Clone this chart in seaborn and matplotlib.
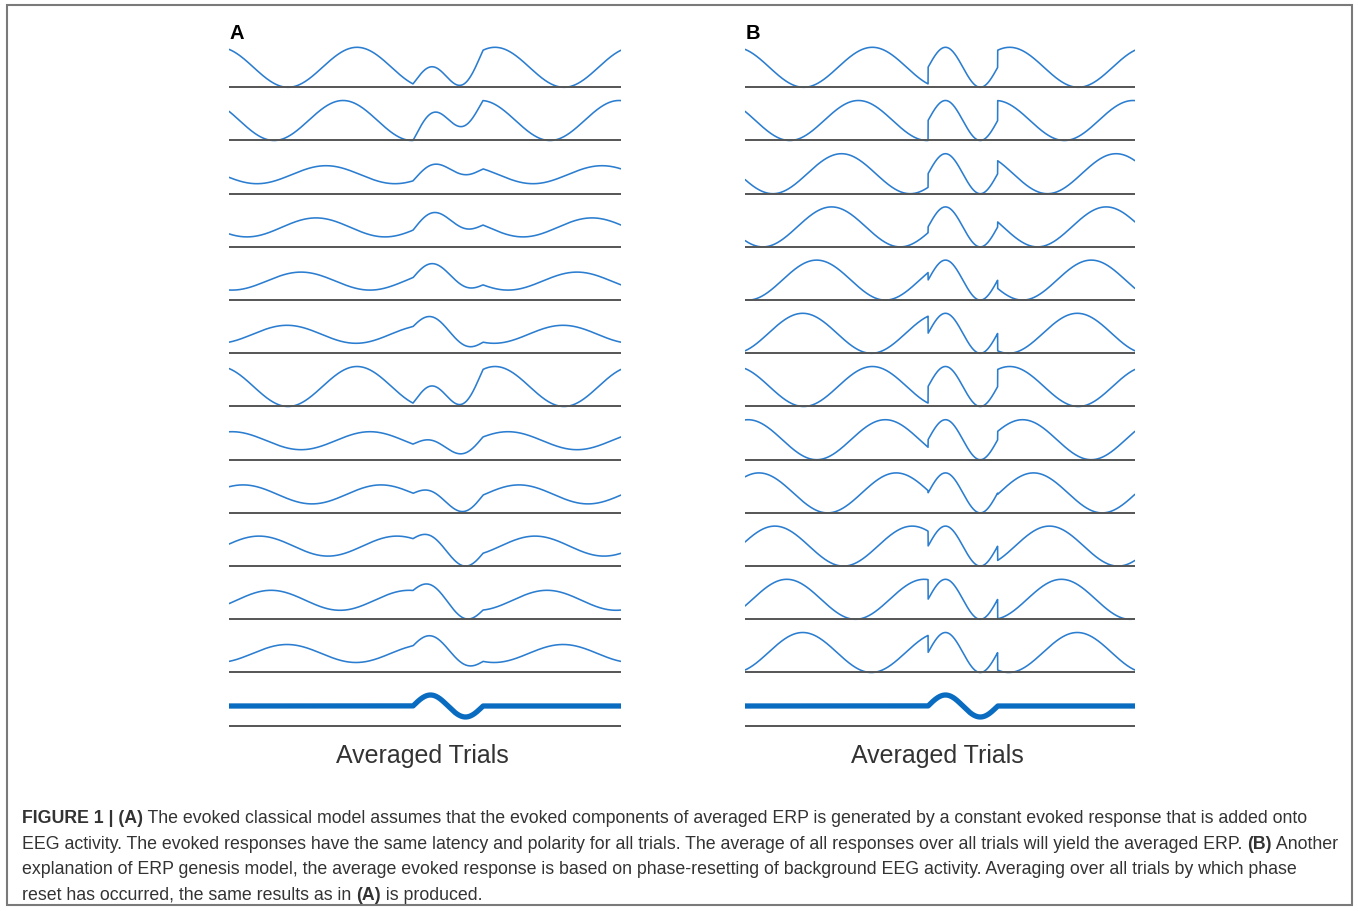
import numpy as np
import pandas as pd
import matplotlib
matplotlib.use('Agg')
import matplotlib.pyplot as plt
import seaborn as sns
from matplotlib.patches import Rectangle

# ==============================================================================
# DATA (read off the figure, units = pixels, x measured from left end of a panel)
# ==============================================================================
trial_names = [f'Trial {i + 1}' for i in range(12)]
trial_peak = [128, 114, 97, 87, 72, 58, 128, 3, 14, 30, 42, 58]   # crest of background EEG
amp_a = [20, 20, 9, 9.5, 9, 9, 20, 9, 9.5, 10, 10, 9]             # half peak-to-peak, panel A
offset_a = [20, 20, 19, 19.5, 19, 19, 20, 19, 18.5, 20, 19, 19]   # centre level above baseline, panel A
amp_b = [20] * 12                                                 # panel B: full-size background
offset_b = [20] * 12
bg_period = 138
evoked_window = [184, 254]     # onset / offset of evoked response (phase reset in B)
avg_amp = 11
avg_level = 20
trace_len = 392

panel_labels = ['A', 'B']
avg_label = 'Averaged Trials'
caption = [
    [('FIGURE 1 | (A)', True),
     (' The evoked classical model assumes that the evoked components of averaged ERP is generated by a constant evoked response that is added onto', False)],
    [('EEG activity. The evoked responses have the same latency and polarity for all trials. The average of all responses over all trials will yield the averaged ERP. ', False),
     ('(B)', True), (' Another', False)],
    [('explanation of ERP genesis model, the average evoked response is based on phase-resetting of background EEG activity. Averaging over all trials by which phase', False)],
    [('reset has occurred, the same results as in ', False), ('(A)', True), (' is produced.', False)],
]

# ==============================================================================
# LAYOUT
# ==============================================================================
W, H = 1358, 912
first_base = 88.3
row_gap = 53.2
avg_base = 727
trace_color = '#2b7dd0'
avg_color = '#0a6cc0'
base_color = '#555555'
cap_font = ['Liberation Sans Narrow', 'Liberation Sans', 'DejaVu Sans']

sns.set_theme(style='white')
plt.rcParams['font.family'] = ['Liberation Sans', 'DejaVu Sans']

fig = plt.figure(figsize=(W / 100, H / 100), dpi=100)


def px_rect(x0, y0, x1, y1):
    return [x0 / W, 1 - y1 / H, (x1 - x0) / W, (y1 - y0) / H]


t = np.linspace(0, trace_len, 3001)
w0, w1 = evoked_window
inside = (t >= w0) & (t <= w1)
evoked = np.where(inside, np.sin(2 * np.pi * (t - w0) / (w1 - w0)), 0.0)
bases = first_base + row_gap * np.arange(len(trial_names))

frames = []
for panel, amps, offs in [('A', amp_a, offset_a), ('B', amp_b, offset_b)]:
    for i, name in enumerate(trial_names):
        bg = np.cos(2 * np.pi * (t - trial_peak[i]) / bg_period)
        if panel == 'A':
            shape = bg + evoked
        else:
            shape = np.where(inside, evoked, bg)
        frames.append(pd.DataFrame({
            'panel': panel, 'trial': name, 't': t,
            'y': -bases[i] + offs[i] + amps[i] * shape}))
df = pd.concat(frames, ignore_index=True)
df_avg = pd.DataFrame({'t': t, 'y': -avg_base + avg_level + avg_amp * evoked})

panel_px = {'A': (229, 621), 'B': (745, 1135)}
for panel in panel_labels:
    x0, x1 = panel_px[panel]
    ax = fig.add_axes(px_rect(x0, 30, x1, 740))
    sns.lineplot(data=df[df['panel'] == panel], x='t', y='y', units='trial',
                 estimator=None, color=trace_color, linewidth=1.15, ax=ax, legend=False)
    sns.lineplot(data=df_avg, x='t', y='y', estimator=None, color=avg_color,
                 linewidth=3.8, ax=ax, legend=False, solid_capstyle='butt')
    ax.hlines(-np.append(bases, avg_base), 0, trace_len, color=base_color, linewidth=1.4)
    ax.set_xlim(0, trace_len)
    ax.set_ylim(-740, -30)
    ax.axis('off')

    fig.text((x0 + 1) / W, 1 - 39 / H, panel, fontsize=14.5, fontweight='bold',
             color='black', va='baseline', ha='left')
    fig.text((x0 + x1) / 2 / W - 3 / W, 1 - 763 / H, avg_label, fontsize=18,
             color='#333333', va='baseline', ha='center')

# frame round the whole figure
fig.patches.append(Rectangle((7 / W, 1 - 906 / H), (1352 - 7) / W, (906 - 6) / H,
                             transform=fig.transFigure, fill=False,
                             edgecolor='#7a7a7a', linewidth=1.5))

# caption with bold parts, one font size chosen so no line runs past its reference end
fig.canvas.draw()
renderer = fig.canvas.get_renderer()


def draw_line(segments, x_px, y_px, size):
    x = x_px
    for txt, bold in segments:
        tx = fig.text(x / W, 1 - y_px / H, txt, fontsize=size, family=cap_font,
                      fontweight='bold' if bold else 'normal',
                      color='#333333', va='baseline', ha='left')
        x += tx.get_window_extent(renderer).width
    return x - x_px


line_ends = [1336, 1341, 1313]
ratios = []
for seg, end in zip(caption, line_ends):
    n0 = len(fig.texts)
    width = draw_line(seg, 0, -100, 12)
    for tx in fig.texts[n0:]:
        tx.remove()
    ratios.append((end - 22) / width)
cap_size = 12 * min(ratios)

for seg, y in zip(caption, [823, 849, 874, 900]):
    draw_line(seg, 22, y, cap_size)

fig.savefig('out.png', dpi=100)
